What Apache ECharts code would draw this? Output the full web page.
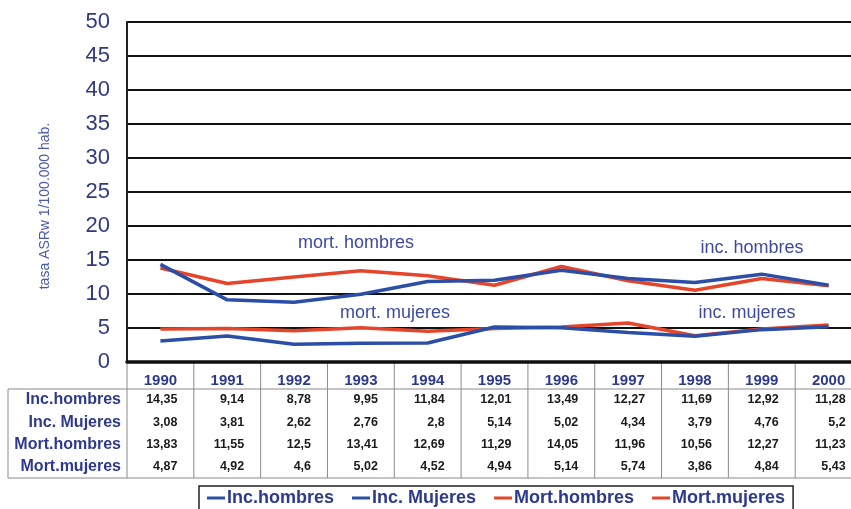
<!DOCTYPE html>
<html><head><meta charset="utf-8">
<script src="https://cdn.jsdelivr.net/npm/echarts@6/dist/echarts.min.js"></script>
<style>html,body{margin:0;padding:0;background:#fff}#c{width:851px;height:509px}</style>
</head><body><div id="c"></div>
<script>
// Incidence and mortality rates (ASRw per 100.000), 1990-2000
const years = ['1990','1991','1992','1993','1994','1995','1996','1997','1998','1999','2000'];
const seriesNames = ['Inc.hombres', 'Inc. Mujeres', 'Mort.hombres', 'Mort.mujeres'];
const incHombres  = [14.35, 9.14, 8.78, 9.95, 11.84, 12.01, 13.49, 12.27, 11.69, 12.92, 11.28];
const incMujeres  = [3.08, 3.81, 2.62, 2.76, 2.8, 5.14, 5.02, 4.34, 3.79, 4.76, 5.2];
const mortHombres = [13.83, 11.55, 12.5, 13.41, 12.69, 11.29, 14.05, 11.96, 10.56, 12.27, 11.23];
const mortMujeres = [4.87, 4.92, 4.6, 5.02, 4.52, 4.94, 5.14, 5.74, 3.86, 4.84, 5.43];
const yTicks = [0, 5, 10, 15, 20, 25, 30, 35, 40, 45, 50];
const notes = [
  { text: 'mort. hombres', x: 356, y: 243 },
  { text: 'mort. mujeres', x: 395, y: 313 },
  { text: 'inc. hombres', x: 752, y: 248 },
  { text: 'inc. mujeres', x: 747, y: 313 }
];

const BLUE = '#2b4ea6', RED = '#e5452a', NAVY = '#2d3a8c';
const FONT = '"Liberation Sans", Arial, sans-serif';
const seriesData = [incHombres, incMujeres, mortHombres, mortMujeres];
const seriesColors = [BLUE, BLUE, RED, RED];

const chart = echarts.init(document.getElementById('c'), null, { renderer: 'canvas' });

const option = {
  animation: false,
  backgroundColor: '#fff',
  textStyle: { fontFamily: FONT },
  grid: { left: 127, top: 22, height: 340, width: 735, outerBoundsMode: 'none', containLabel: false },
  legend: {
    data: seriesNames,
    left: 199,
    top: 486,
    padding: [3, 8, 3, 8],
    borderColor: '#222',
    borderWidth: 1.5,
    itemGap: 18,
    itemWidth: 18,
    itemHeight: 3,
    icon: 'rect',
    textStyle: { color: NAVY, fontWeight: 'bold', fontSize: 18, fontFamily: FONT, padding: [0, 0, 0, -3] }
  },
  xAxis: {
    type: 'category',
    data: years,
    boundaryGap: true,
    axisLine: { lineStyle: { color: '#111', width: 3.5 } },
    axisTick: { show: false },
    axisLabel: { show: false }
  },
  yAxis: {
    type: 'value',
    min: yTicks[0],
    max: yTicks[yTicks.length - 1],
    interval: 5,
    axisLine: { show: true, lineStyle: { color: '#222', width: 2 } },
    axisTick: { show: false },
    axisLabel: { color: '#2f3a80', fontSize: 22, margin: 17, fontFamily: FONT },
    splitLine: { lineStyle: { color: '#111', width: 2 } }
  },
  series: seriesNames.map((name, i) => ({
    name,
    type: 'line',
    data: seriesData[i],
    showSymbol: false,
    symbol: 'none',
    z: seriesColors[i] === BLUE ? 4 : 3,
    itemStyle: { color: seriesColors[i] },
    lineStyle: { color: seriesColors[i], width: 3.5 }
  }))
};
chart.setOption(option);

// Data table under the plot, laid out on the category scale
const g = [];
const cx = i => chart.convertToPixel({ xAxisIndex: 0 }, i);
const band = cx(1) - cx(0);
const left = cx(0) - band / 2;
const right = cx(years.length - 1) + band / 2;
const yHeadTop = 363, yRowTop = 389, yBottom = 478;
const rowY = [400, 423, 445, 467];
const lineStyle = { stroke: '#8a8a8a', lineWidth: 1 };

g.push({ type: 'line', shape: { x1: 8, y1: yRowTop, x2: right, y2: yRowTop }, style: lineStyle });
g.push({ type: 'line', shape: { x1: 8, y1: yBottom, x2: right, y2: yBottom }, style: lineStyle });
g.push({ type: 'line', shape: { x1: 8, y1: yRowTop, x2: 8, y2: yBottom }, style: lineStyle });
for (let k = 0; k <= years.length; k++) {
  const x = left + k * band;
  g.push({ type: 'line', shape: { x1: x, y1: yHeadTop, x2: x, y2: yBottom }, style: lineStyle });
}
years.forEach((yr, i) => {
  g.push({ type: 'text', x: cx(i), y: 381, style: { text: yr, fill: NAVY, font: 'bold 15px ' + FONT, textAlign: 'center', textVerticalAlign: 'middle' } });
  seriesData.forEach((arr, r) => {
    g.push({ type: 'text', x: cx(i) + 17, y: rowY[r], style: { text: String(arr[i]).replace('.', ','), fill: '#1a1a1a', font: 'bold 12.5px ' + FONT, textAlign: 'right', textVerticalAlign: 'middle' } });
  });
});
seriesNames.forEach((name, r) => {
  g.push({ type: 'text', x: 121, y: rowY[r], style: { text: name, fill: NAVY, font: 'bold 16px ' + FONT, textAlign: 'right', textVerticalAlign: 'middle' } });
});

// Series annotations and vertical axis title
notes.forEach(n => {
  g.push({ type: 'text', x: n.x, y: n.y, z: 10, style: { text: n.text, fill: '#3d4a9e', font: '18px ' + FONT, textAlign: 'center', textVerticalAlign: 'middle' } });
});
g.push({ type: 'text', x: 45, y: 206, rotation: Math.PI / 2, style: { text: 'tasa ASRw 1/100.000 hab.', fill: '#4a5aa8', font: '14px ' + FONT, textAlign: 'center', textVerticalAlign: 'middle' } });

chart.setOption({ graphic: { elements: g } });
</script>
</body></html>
